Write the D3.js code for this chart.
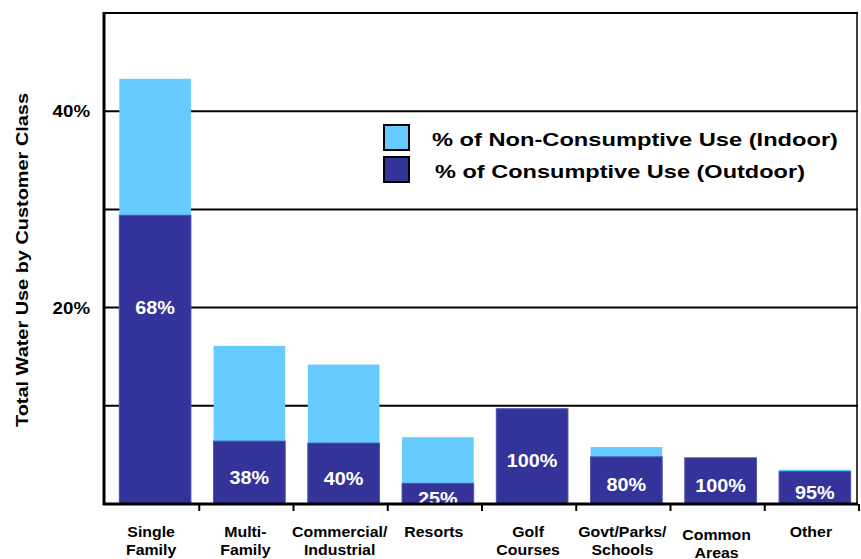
<!DOCTYPE html>
<html>
<head>
<meta charset="utf-8">
<script src="https://cdn.jsdelivr.net/npm/d3@7"></script>
<style>
  body { margin: 0; background: #fff; }
  svg { font-family: Arial, "Liberation Sans", sans-serif; font-weight: bold; }
</style>
</head>
<body>
<svg id="chart"></svg>
<script>
// customer classes (label lines)
const categories = [
  ['Single', 'Family'], ['Multi-', 'Family'], ['Commercial/', 'Industrial'], ['Resorts'],
  ['Golf', 'Courses'], ['Govt/Parks/', 'Schools'], ['Common', 'Areas'], ['Other']
];
// total share of water use (%)
const totals = [43.3, 16.1, 14.2, 6.8, 9.7, 5.8, 4.7, 3.5];
// consumptive (outdoor) share (%) of total use
const outdoor = [29.4, 6.4, 6.2, 2.1, 9.7, 4.8, 4.7, 3.3];
const outdoorPct = ['68%', '38%', '40%', '25%', '100%', '80%', '100%', '95%'];
const yTicks = [10, 20, 30, 40, 50];
const yTickLabels = { 20: '20%', 40: '40%' };
const legendItems = ['% of Non-Consumptive Use (Indoor)', '% of Consumptive Use (Outdoor)'];

const width = 861, height = 559;
const margin = { top: 13, right: 3, bottom: 55, left: 104 };
const innerW = width - margin.left - margin.right;
const innerH = height - margin.top - margin.bottom;
const light = '#66ccff', dark = '#333399';

const svg = d3.select('#chart').attr('width', width).attr('height', height);
const chart = svg.append('g').attr('transform', `translate(${margin.left},${margin.top})`);

const x = d3.scaleBand().domain(d3.range(categories.length)).range([0, innerW]).paddingInner(0.24).paddingOuter(0.12);
const y = d3.scaleLinear().domain([0, 50]).range([innerH, 0]);
const shift = 4;

// gridlines
chart.append('g')
  .selectAll('line').data(yTicks).join('line')
  .attr('x1', 0).attr('x2', innerW)
  .attr('y1', d => y(d)).attr('y2', d => y(d))
  .attr('stroke', '#000').attr('stroke-width', 2);

// right border
chart.append('line')
  .attr('x1', innerW - 1).attr('x2', innerW - 1).attr('y1', 0).attr('y2', innerH)
  .attr('stroke', '#000').attr('stroke-width', 1.5);

// legend
const legendLen = [406, 370];
const legend = chart.append('g').attr('transform', `translate(${280},${112})`);
legendItems.forEach((t, i) => {
  legend.append('rect')
    .attr('x', 0).attr('y', i * 32).attr('width', 25).attr('height', 25)
    .attr('fill', i === 0 ? light : dark).attr('stroke', '#000').attr('stroke-width', 2);
  legend.append('text')
    .attr('x', 48 + i * 3).attr('y', 21 + i * 32)
    .attr('textLength', legendLen[i]).attr('lengthAdjust', 'spacingAndGlyphs')
    .style('font-size', '19px').attr('fill', '#000').text(t);
});

// bars
const bars = chart.append('g').selectAll('g').data(totals).join('g');
bars.append('rect')
  .attr('x', (d, i) => x(i) + shift).attr('width', x.bandwidth())
  .attr('y', d => y(d)).attr('height', d => innerH - y(d))
  .attr('fill', light);
bars.append('rect')
  .attr('x', (d, i) => x(i) + shift).attr('width', x.bandwidth())
  .attr('y', (d, i) => y(outdoor[i])).attr('height', (d, i) => innerH - y(outdoor[i]))
  .attr('fill', dark).attr('stroke', '#5050b0').attr('stroke-width', 1);
bars.append('text')
  .attr('text-anchor', 'middle').attr('fill', '#fff')
  .style('font-size', '18px')
  .attr('transform', (d, i) => `translate(${x(i) + shift + x.bandwidth() / 2},${y(outdoor[i]) + Math.min((innerH - y(outdoor[i])) / 2, 88) + 11}) scale(1.1,1)`)
  .text((d, i) => outdoorPct[i]);

// y axis line
chart.append('line')
  .attr('x1', 0).attr('x2', 0).attr('y1', -1).attr('y2', innerH + 1)
  .attr('stroke', '#000').attr('stroke-width', 3);
// x axis line
chart.append('line')
  .attr('x1', -1).attr('x2', innerW).attr('y1', innerH).attr('y2', innerH)
  .attr('stroke', '#000').attr('stroke-width', 3);
// category boundary ticks
chart.append('g')
  .selectAll('line').data(d3.range(1, categories.length + 1)).join('line')
  .attr('x1', i => x(i - 1) + x.step() * (1 - x.paddingInner() / 2) + 1)
  .attr('x2', i => x(i - 1) + x.step() * (1 - x.paddingInner() / 2) + 1)
  .attr('y1', innerH).attr('y2', innerH + 7)
  .attr('stroke', '#000').attr('stroke-width', 2);

// y tick labels
chart.append('g')
  .selectAll('text').data(Object.keys(yTickLabels)).join('text')
  .attr('text-anchor', 'end').style('font-size', '17px')
  .attr('transform', d => `translate(-14,${y(+d) + 6}) scale(1.1,1)`)
  .text(d => yTickLabels[d]);

// category labels
chart.append('g')
  .selectAll('text').data(categories).join('text')
  .attr('text-anchor', 'middle').style('font-size', '15px')
  .attr('transform', (d, i) => `translate(${x(i) + x.bandwidth() / 2},${innerH + 33 + (i === 6 ? 3 : 0)}) scale(1.06,1)`)
  .selectAll('tspan').data(d => d).join('tspan')
  .attr('x', 0).attr('dy', (d, j) => j === 0 ? 0 : 18)
  .text(d => d);

// y axis title
svg.append('text')
  .attr('transform', `translate(28,${260}) rotate(-90)`)
  .attr('text-anchor', 'middle').style('font-size', '17px')
  .attr('textLength', 334).attr('lengthAdjust', 'spacingAndGlyphs')
  .text('Total Water Use by Customer Class');
</script>
</body>
</html>
